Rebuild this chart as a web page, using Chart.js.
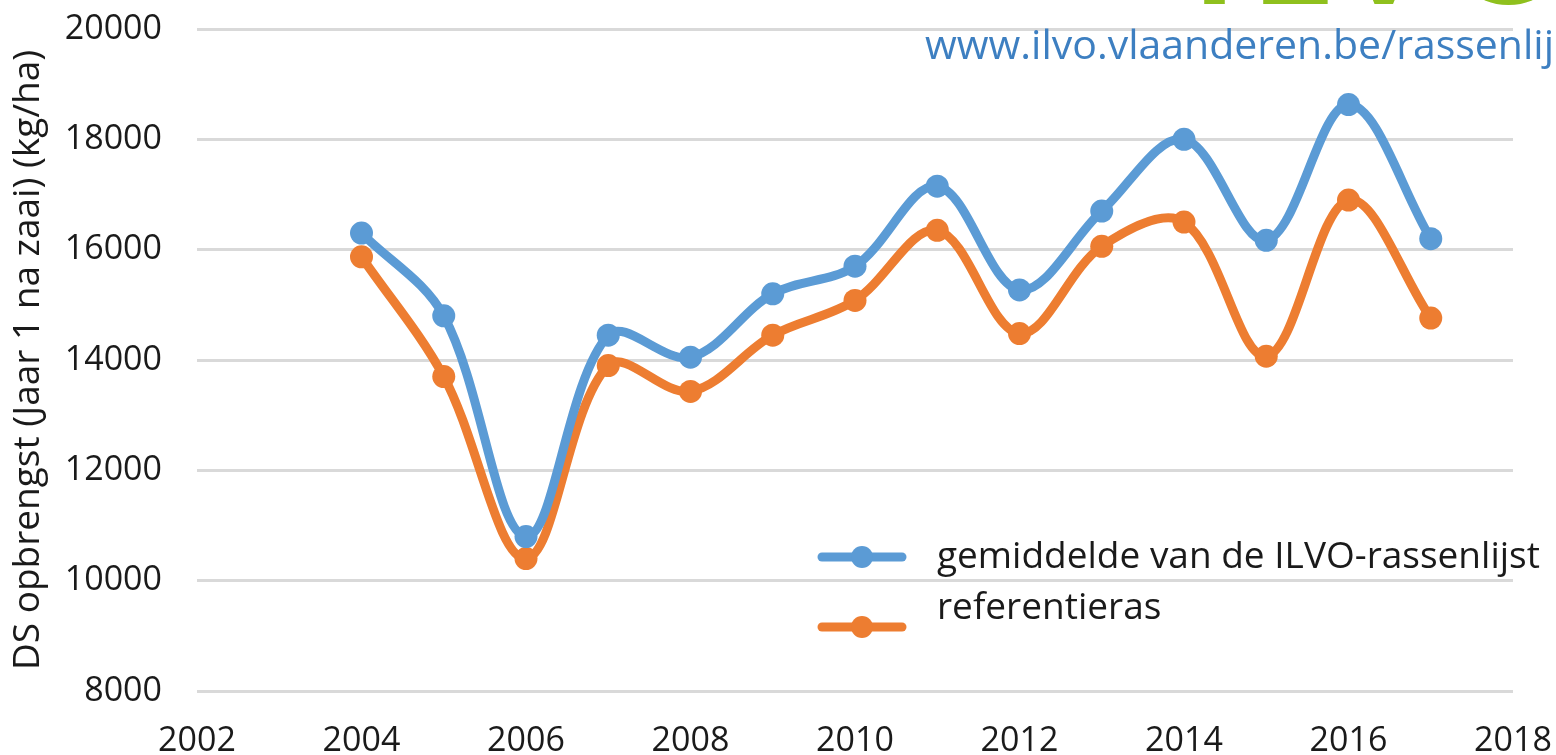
<!DOCTYPE html>
<html>
<head>
<meta charset="utf-8">
<script src="https://cdn.jsdelivr.net/npm/chart.js@4"></script>
<style>
  html, body { margin: 0; padding: 0; background: #fff; overflow: hidden; }
  #wrap { position: relative; width: 1556px; height: 755px; overflow: hidden; }
  #logo { position: absolute; left: 1192px; top: -146px; font: bold 152px Lato, sans-serif; color: #8fc01d; white-space: nowrap; letter-spacing: 14px; }
  #url { position: absolute; left: 925px; top: 15px; font: 41px "Open Sans", sans-serif; color: #3d7fc1; white-space: nowrap; }
</style>
</head>
<body>
<div id="wrap">
  <canvas id="chart"></canvas>
  <div id="logo">ILVO</div>
  <div id="url">www.ilvo.vlaanderen.be/rassenlijst</div>
</div>
<script>
// values
const years = [2004, 2005, 2006, 2007, 2008, 2009, 2010, 2011, 2012, 2013, 2014, 2015, 2016, 2017];
const gemiddelde = [16300, 14800, 10800, 14450, 14050, 15200, 15700, 17150, 15270, 16700, 18000, 16170, 18630, 16200];
const referentie = [15870, 13700, 10400, 13900, 13430, 14450, 15080, 16350, 14480, 16060, 16500, 14070, 16900, 14760];
const seriesNames = ['gemiddelde van de ILVO-rassenlijst', 'referentieras'];
const yTitle = 'DS opbrengst (Jaar 1 na zaai) (kg/ha)';

const blue = '#5b9bd5';
const orange = '#ed7d31';
const font = '"Open Sans", sans-serif';

function toPoints(vals) {
    return years.map((yr, i) => ({ x: yr, y: vals[i] }));
}

// legend drawn inside the plot, lower right, like the Excel original
const insideLegend = {
    id: 'insideLegend',
    afterDraw(chart) {
        const ctx = chart.ctx;
        const lineYs = [557, 627];
        const textYs = [557, 608];
        ctx.save();
        chart.data.datasets.forEach((ds, i) => {
            ctx.strokeStyle = ds.borderColor;
            ctx.lineWidth = 9;
            ctx.lineCap = 'round';
            ctx.beginPath();
            ctx.moveTo(822, lineYs[i]);
            ctx.lineTo(902, lineYs[i]);
            ctx.stroke();
            ctx.fillStyle = ds.borderColor;
            ctx.beginPath();
            ctx.arc(862, lineYs[i], 11, 0, Math.PI * 2);
            ctx.fill();
            ctx.fillStyle = '#1a1a1a';
            ctx.font = '37px ' + font;
            ctx.textAlign = 'left';
            ctx.textBaseline = 'middle';
            ctx.fillText(ds.label, 937, textYs[i]);
        });
        ctx.restore();
    }
};

new Chart(document.getElementById('chart'), {
    type: 'line',
    data: {
        datasets: [
            { label: seriesNames[0], data: toPoints(gemiddelde), borderColor: blue, backgroundColor: blue },
            { label: seriesNames[1], data: toPoints(referentie), borderColor: orange, backgroundColor: orange }
        ]
    },
    options: {
        responsive: true,
        maintainAspectRatio: false,
        animation: false,
        layout: { padding: { top: 29, right: 43, left: 0, bottom: 0 } },
        elements: {
            line: { borderWidth: 9, tension: 0.35, borderCapStyle: 'round', borderJoinStyle: 'round' },
            point: { radius: 11.5, borderWidth: 0 }
        },
        plugins: {
            legend: { display: false },
            tooltip: { enabled: false }
        },
        scales: {
            x: {
                type: 'linear',
                min: 2002,
                max: 2018,
                grid: { display: false, drawTicks: false },
                border: { display: false },
                ticks: {
                    stepSize: 2,
                    padding: 30,
                    color: '#1a1a1a',
                    font: { family: font, size: 34 },
                    callback: v => String(v)
                },
                afterFit(scale) {
                    scale.height = 64;
                    scale.paddingLeft = 0;
                    scale.paddingRight = 0;
                }
            },
            y: {
                min: 8000,
                max: 20000,
                grid: { color: '#d9d9d9', lineWidth: 3, drawTicks: false },
                border: { display: false },
                ticks: {
                    stepSize: 2000,
                    padding: 35,
                    color: '#1a1a1a',
                    font: { family: font, size: 34 },
                    callback: v => String(v)
                },
                title: {
                    display: true,
                    text: yTitle,
                    color: '#1a1a1a',
                    font: { family: font, size: 37 },
                    padding: { top: 6, bottom: 0 }
                },
                afterFit(scale) {
                    scale.width = 197;
                    scale.paddingTop = 0;
                    scale.paddingBottom = 0;
                }
            }
        }
    },
    plugins: [insideLegend]
});
</script>
</body>
</html>
